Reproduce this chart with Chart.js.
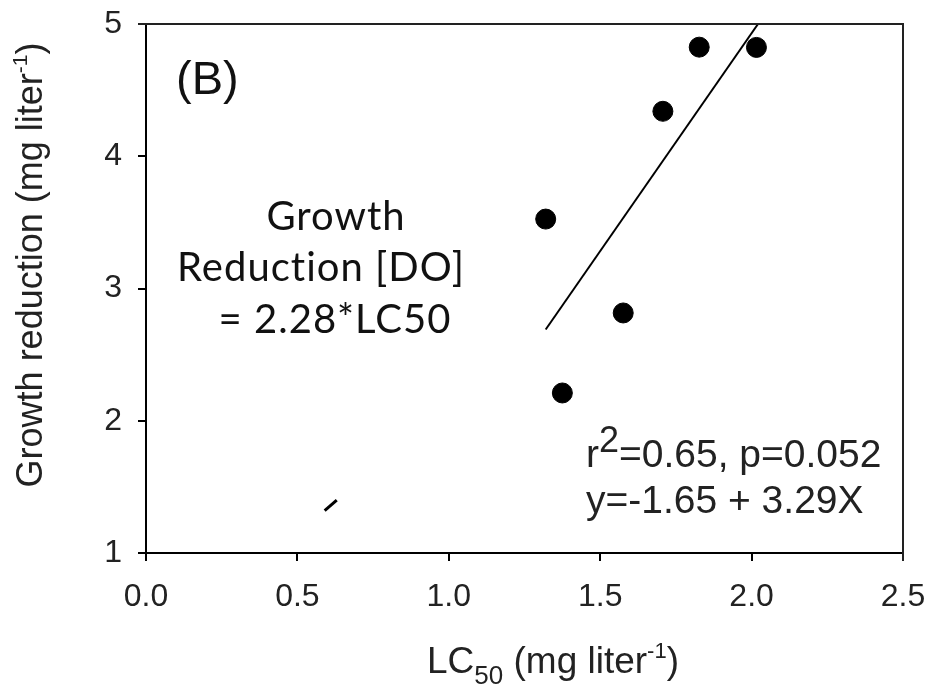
<!DOCTYPE html>
<html lang="en">

<head>
  <meta charset="UTF-8">
  <title>Growth reduction vs LC50</title>
  <script src="https://cdn.jsdelivr.net/npm/chart.js"></script>
  <style>
    body { margin: 0; background: #fff; }
    canvas { display: block; }
  </style>
</head>

<body>
  <canvas id="lcChart" width="932" height="688"></canvas>

  <script>
    // ticks
    const xTicks = [0, 0.5, 1.0, 1.5, 2.0, 2.5];
    const yTicks = [1, 2, 3, 4, 5];

    // observed points
    const lc50 = [1.32, 1.375, 1.576, 1.707, 1.827, 2.016];
    const growthRed = [3.525, 2.21, 2.815, 4.34, 4.825, 4.823];

    // regression line y = -1.65 + 3.29X
    const fitX = [1.32, 2.02];
    const fitY = [2.69, 4.996];

    // short segment of Growth Reduction [DO] = 2.28*LC50
    const doX = [0.59, 0.63];
    const doY = [1.32, 1.40];

    const ARIAL = '"Liberation Sans", Arial, sans-serif';
    const GOTHIC = 'Lato, "Noto Sans", sans-serif';

    function pairs(xs, ys) {
      return xs.map((x, i) => ({ x: x, y: ys[i] }));
    }

    // draws a run of [text, size, dy] pieces starting at x, baseline y
    function drawRun(ctx, parts, x, y, font) {
      parts.forEach(p => {
        ctx.font = p[1] + 'px ' + font;
        ctx.fillText(p[0], x, y + (p[2] || 0));
        x += ctx.measureText(p[0]).width;
      });
    }

    function runWidth(ctx, parts, font) {
      let w = 0;
      parts.forEach(p => {
        ctx.font = p[1] + 'px ' + font;
        w += ctx.measureText(p[0]).width;
      });
      return w;
    }

    const decorations = {
      id: 'decorations',
      afterDatasetsDraw(chart) {
        const ctx = chart.ctx;
        const a = chart.chartArea;
        ctx.save();

        // frame top / right
        ctx.strokeStyle = '#222';
        ctx.lineWidth = 2;
        ctx.beginPath();
        ctx.moveTo(a.left - 8, a.top);
        ctx.lineTo(a.right, a.top);
        ctx.lineTo(a.right, a.bottom + 8);
        ctx.stroke();

        ctx.fillStyle = '#111';
        ctx.textBaseline = 'alphabetic';

        // panel label
        ctx.textAlign = 'left';
        ctx.font = '47px ' + ARIAL;
        ctx.fillText('(B)', 176, 94);

        // DO equation
        ctx.textAlign = 'center';
        ctx.letterSpacing = '1px';
        ctx.font = '40px ' + GOTHIC;
        ctx.fillText('Growth', 336, 230);
        ctx.fillText('Reduction [DO]', 321, 281);
        ctx.fillText('= 2.28*LC50', 335, 333);
        ctx.letterSpacing = '0px';

        // stats
        ctx.textAlign = 'left';
        ctx.fillStyle = '#222';
        drawRun(ctx, [['r', 39], ['2', 36, -15], ['=0.65, p=0.052', 39]], 586, 467, ARIAL);
        drawRun(ctx, [['y=-1.65 + 3.29X', 39]], 586, 513, ARIAL);

        // x title
        const xParts = [['LC', 37], ['50', 26, 11], [' (mg liter', 37], ['-1', 22, -15], [')', 37]];
        const xw = runWidth(ctx, xParts, ARIAL);
        drawRun(ctx, xParts, 553 - xw / 2, 673, ARIAL);

        // y title
        const yParts = [['Growth reduction (mg liter', 36], ['-1', 21, -15], [')', 36]];
        const yw = runWidth(ctx, yParts, ARIAL);
        ctx.translate(42, 265);
        ctx.rotate(-Math.PI / 2);
        drawRun(ctx, yParts, -yw / 2, 0, ARIAL);

        ctx.restore();
      }
    };

    new Chart(document.getElementById('lcChart'), {
      type: 'scatter',
      data: {
        datasets: [{
          label: 'Observed',
          data: pairs(lc50, growthRed),
          backgroundColor: '#000',
          borderColor: '#000',
          pointRadius: 10,
          pointHoverRadius: 10
        }, {
          label: 'Regression',
          data: pairs(fitX, fitY),
          showLine: true,
          borderColor: '#000',
          borderWidth: 2,
          pointRadius: 0
        }, {
          label: 'DO line',
          data: pairs(doX, doY),
          showLine: true,
          borderColor: '#000',
          borderWidth: 3,
          pointRadius: 0
        }]
      },
      options: {
        responsive: false,
        animation: false,
        layout: { padding: { top: 24, right: 29, left: 0, bottom: 0 } },
        plugins: {
          legend: { display: false },
          tooltip: { enabled: false }
        },
        scales: {
          x: {
            type: 'linear',
            min: 0,
            max: 2.5,
            afterBuildTicks: s => { s.ticks = xTicks.map(v => ({ value: v })); },
            afterFit: s => {
              s.height = 135;
              s.paddingLeft = 0;
              s.paddingRight = 0;
            },
            ticks: {
              callback: v => v.toFixed(1),
              font: { family: ARIAL, size: 32 },
              color: '#222',
              padding: 17
            },
            grid: { drawOnChartArea: false, drawTicks: true, tickLength: 8, color: '#000', lineWidth: 2 },
            border: { color: '#000', width: 2 }
          },
          y: {
            min: 1,
            max: 5,
            afterBuildTicks: s => { s.ticks = yTicks.map(v => ({ value: v })); },
            afterFit: s => {
              s.width = 146;
              s.paddingTop = 0;
              s.paddingBottom = 0;
            },
            ticks: {
              font: { family: ARIAL, size: 32 },
              color: '#222',
              padding: 16
            },
            grid: { drawOnChartArea: false, drawTicks: true, tickLength: 8, color: '#000', lineWidth: 2 },
            border: { color: '#000', width: 2 }
          }
        }
      },
      plugins: [decorations]
    });
  </script>
</body>

</html>
